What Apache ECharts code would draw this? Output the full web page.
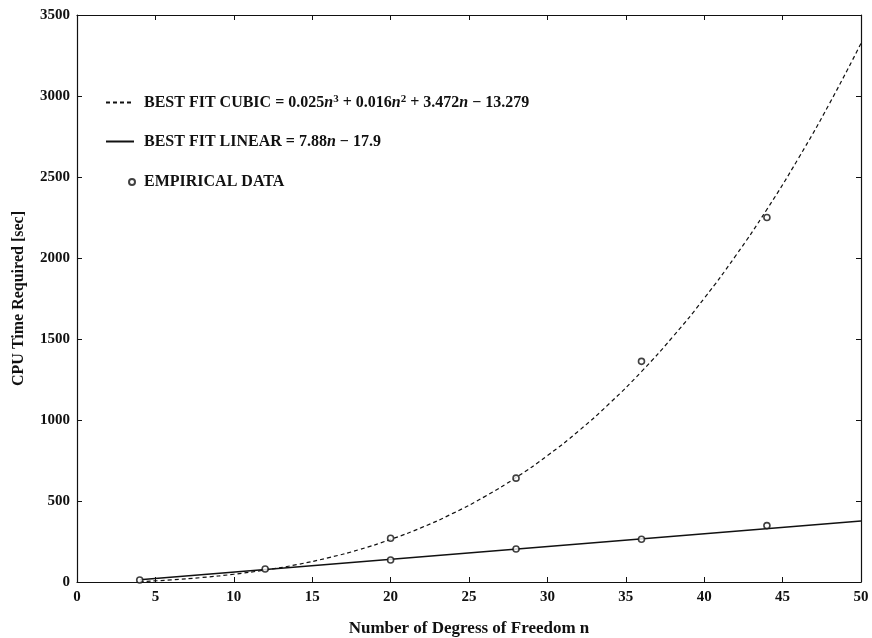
<!DOCTYPE html>
<html>
<head>
<meta charset="utf-8">
<title>CPU Time vs Degrees of Freedom</title>
<script src="https://cdn.jsdelivr.net/npm/echarts@6/dist/echarts.min.js"></script>
<style>
  html, body { margin: 0; padding: 0; background: #fff; }
  #chart { width: 872px; height: 638px; }
</style>
</head>
<body>
<div id="chart"></div>
<script>
// best fit cubic curve
const cubicN = [4, 6, 8, 10, 12, 14, 16, 18, 20, 22, 24, 26, 28, 30, 32, 34, 36, 38, 40, 42, 44, 46, 48, 50]
const cubicT = [2, 13, 28, 48, 74, 107, 149, 200, 263, 337, 425, 527, 645, 780, 933, 1106, 1299, 1514, 1751, 2013, 2300, 2614, 2955, 3325]

// best fit linear, end points
const linearN = [4, 50]
const linearT = [14, 376]

// empirical data points
const dataN = [4, 12, 20, 20, 28, 28, 36, 36, 44, 44]
const dataT = [12, 80, 270, 136, 641, 204, 1362, 264, 2250, 348]

const xTicks = [0, 5, 10, 15, 20, 25, 30, 35, 40, 45, 50]
const yTicks = [0, 500, 1000, 1500, 2000, 2500, 3000, 3500]

const legendLabels = {
  'BEST FIT CUBIC': 'BEST FIT CUBIC = 0.025{i|n}{s|3} + 0.016{i|n}{s|2} + 3.472{i|n} − 13.279',
  'BEST FIT LINEAR': 'BEST FIT LINEAR = 7.88{i|n} − 17.9',
  'EMPIRICAL DATA': 'EMPIRICAL DATA'
}

const serif = '"Liberation Serif", "DejaVu Serif", serif'
const ink = '#111'

const chart = echarts.init(document.getElementById('chart'))

const baseX = {
  type: 'value',
  min: xTicks[0],
  max: xTicks[xTicks.length - 1],
  interval: 5,
  splitLine: { show: false },
  axisLine: { show: true, onZero: false, lineStyle: { color: ink, width: 1.2 } },
  axisTick: { show: true, inside: true, length: 5, lineStyle: { color: ink } }
}
const baseY = {
  type: 'value',
  min: yTicks[0],
  max: yTicks[yTicks.length - 1],
  interval: 500,
  splitLine: { show: false },
  axisLine: { show: true, onZero: false, lineStyle: { color: ink, width: 1.2 } },
  axisTick: { show: true, inside: true, length: 5, lineStyle: { color: ink } }
}

function legendText(padLeft) {
  return {
    fontFamily: serif,
    fontSize: 16,
    fontWeight: 'bold',
    color: ink,
    padding: [0, 0, 0, padLeft],
    rich: {
      i: { fontFamily: serif, fontSize: 16, fontWeight: 'bold', fontStyle: 'italic', color: ink },
      s: { fontFamily: serif, fontSize: 11, fontWeight: 'bold', color: ink, verticalAlign: 'top', padding: [0, 0, 6, 0] }
    }
  }
}

const option = {
  animation: false,
  backgroundColor: '#fff',
  grid: { left: 77, right: 11, top: 15, bottom: 56, outerBoundsMode: 'none' },
  legend: [
    {
      orient: 'vertical',
      left: 100,
      top: 89,
      itemWidth: 28,
      itemHeight: 14,
      itemGap: 23,
      itemStyle: { opacity: 0 },
      data: ['BEST FIT CUBIC', 'BEST FIT LINEAR'],
      formatter: function (name) { return legendLabels[name] },
      textStyle: legendText(5)
    },
    {
      left: 123,
      top: 169,
      itemWidth: 6,
      itemHeight: 6,
      data: ['EMPIRICAL DATA'],
      formatter: function (name) { return legendLabels[name] },
      textStyle: legendText(4)
    }
  ],
  xAxis: [
    Object.assign({}, baseX, {
      position: 'bottom',
      name: 'Number of Degress of Freedom n',
      nameLocation: 'middle',
      nameGap: 38,
      nameTextStyle: { fontFamily: serif, fontSize: 17, fontWeight: 'bold', color: ink },
      axisLabel: { fontFamily: serif, fontSize: 15, fontWeight: 'bold', color: ink, margin: 8 }
    }),
    Object.assign({}, baseX, { position: 'top', axisLabel: { show: false } })
  ],
  yAxis: [
    Object.assign({}, baseY, {
      position: 'left',
      name: 'CPU Time Required [sec]',
      nameLocation: 'middle',
      nameGap: 50,
      nameTextStyle: { fontFamily: serif, fontSize: 16, fontWeight: 'bold', color: ink },
      axisLabel: {
        fontFamily: serif, fontSize: 15, fontWeight: 'bold', color: ink, margin: 7,
        formatter: function (v) { return String(v) }
      }
    }),
    Object.assign({}, baseY, { position: 'right', axisLabel: { show: false } })
  ],
  series: [
    {
      name: 'BEST FIT CUBIC',
      type: 'line',
      smooth: true,
      symbol: 'none',
      data: cubicN.map((n, i) => [n, cubicT[i]]),
      lineStyle: { color: ink, width: 1.2, type: [4, 3] },
      itemStyle: { color: ink }
    },
    {
      name: 'BEST FIT LINEAR',
      type: 'line',
      symbol: 'none',
      data: linearN.map((n, i) => [n, linearT[i]]),
      lineStyle: { color: ink, width: 1.5 },
      itemStyle: { color: ink }
    },
    {
      name: 'EMPIRICAL DATA',
      type: 'scatter',
      symbol: 'circle',
      symbolSize: 6,
      data: dataN.map((n, i) => [n, dataT[i]]),
      itemStyle: { color: '#fff', borderColor: ink, borderWidth: 1.6 },
      z: 5
    }
  ]
}

chart.setOption(option)
</script>
</body>
</html>
